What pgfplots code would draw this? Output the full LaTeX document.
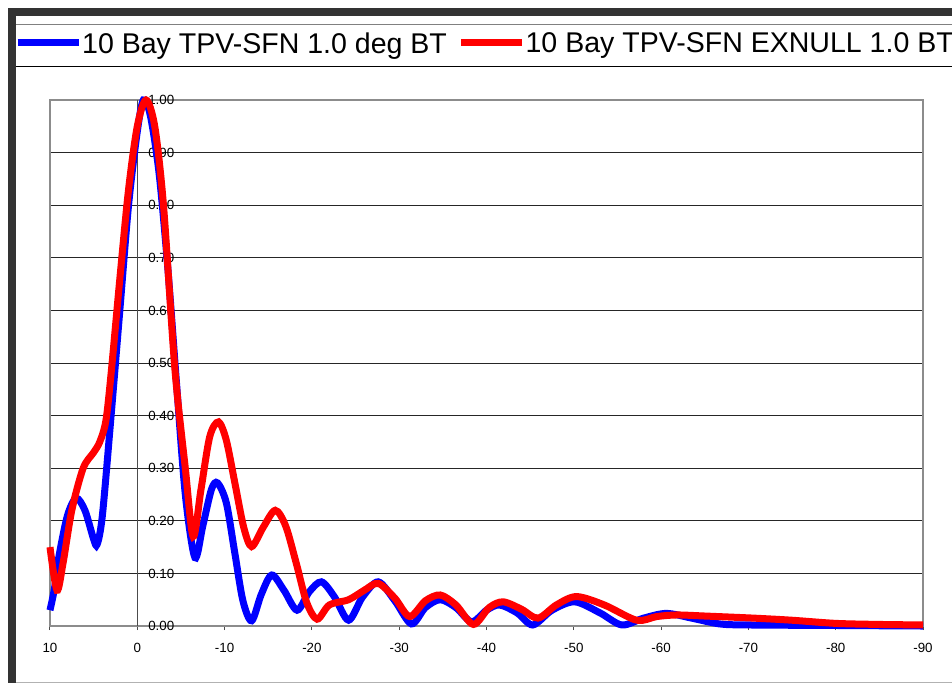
\documentclass[border=0pt]{standalone}
\usepackage{pgfplots}
\pgfplotsset{compat=1.18}
\usepackage{fontspec}
\setmainfont{Liberation Sans}
\definecolor{xlblue}{RGB}{0,0,255}
\definecolor{xlred}{RGB}{255,0,0}
\definecolor{frame}{RGB}{51,51,51}
\begin{document}
\begin{tikzpicture}
\useasboundingbox (0,0) rectangle (714pt,-512.25pt);
\fill[frame] (6pt,-6pt) rectangle (714pt,-12pt);
\fill[frame] (6pt,-6pt) rectangle (12pt,-512.25pt);
\draw[gray, line width=0.75pt] (12pt,-18.4pt) -- (714pt,-18.4pt);
\draw[black, line width=0.75pt] (12pt,-49.5pt) -- (714pt,-49.5pt);
\draw[black!30, line width=0.75pt] (12pt,-511.5pt) -- (714pt,-511.5pt);
\begin{axis}[
  at={(37.5pt,-469.5pt)}, anchor=south west,
  scale only axis, width=654.75pt, height=394.5pt,
  xmin=-90, xmax=10, ymin=0, ymax=1, x dir=reverse,
  clip=false,
  axis line style={black!45, line width=1.5pt},
  xtick={10,0,-10,-20,-30,-40,-50,-60,-70,-80,-90},
  xticklabels={10,0,-10,-20,-30,-40,-50,-60,-70,-80,-90},
  ytick={0,0.1,0.2,0.3,0.4,0.5,0.6,0.7,0.8,0.9,1},
  yticklabels={0.00,0.10,0.20,0.30,0.40,0.50,0.60,0.70,0.80,0.90,1.00},
  xtick pos=bottom, xtick align=outside,
  major tick length=3pt,
  xtick style={black!70, line width=0.75pt},
  ytick style={draw=none},
  ymajorgrids,
  major grid style={black!85, line width=0.75pt},
  extra x ticks={0}, extra x tick labels={},
  extra x tick style={grid=major, major grid style={black!70, line width=0.75pt}, major tick length=0pt},
  xticklabel style={font=\fontsize{10}{12}\selectfont, yshift=-6pt},
  yticklabel style={font=\fontsize{10}{12}\selectfont, anchor=west, inner xsep=0pt, xshift=73.5pt},
  legend style={at={(axis description cs:-0.0413,1.1084)}, anchor=west, draw=none, fill=none,
    inner sep=0pt, legend columns=2, font=\fontsize{21.4}{25}\selectfont,
    nodes={inner xsep=0pt, text depth=0pt},
    /tikz/every even column/.append style={column sep=8pt},
    /tikz/every odd column/.append style={column sep=0pt}},
  legend image code/.code={\draw[#1] (0pt,0pt) -- (45.75pt,0pt);},
]
\addplot[xlblue, line width=5.25pt, smooth, tension=0.5] coordinates {
(10,0.03) (9.5,0.07) (9,0.13) (8,0.21) (7,0.243) (6,0.22) (5,0.165) (4.6,0.155)
(4,0.21) (3,0.40) (2,0.60) (1,0.80) (0,0.94) (-0.7,1.00) (-1.5,0.97) (-2.5,0.86)
(-3.5,0.68) (-4.5,0.46) (-5.5,0.25) (-6.6,0.13) (-7.5,0.19) (-8.5,0.26) (-9.2,0.272)
(-10.2,0.234) (-11.15,0.141) (-12.1,0.048) (-13.1,0.01) (-14.2,0.06) (-15.4,0.097) (-16.8,0.068)
(-18.3,0.03) (-19.7,0.065) (-21.1,0.084) (-22.6,0.055) (-24.2,0.011) (-25.8,0.055)
(-27.6,0.084) (-29.5,0.048) (-31.4,0.004) (-33,0.035) (-34.7,0.05) (-36.5,0.035)
(-38.3,0.008) (-40,0.03) (-41.5,0.04) (-43.5,0.025) (-45.3,0.002) (-47.5,0.03)
(-50.1,0.046) (-53,0.025) (-55.5,0.002) (-58,0.015) (-60.6,0.024) (-63.5,0.015)
(-66.7,0.004) (-70,0.002) (-80,0.001) (-90,0.0)
};
\addlegendentry{10 Bay TPV-SFN 1.0 deg BT}
\addplot[xlred, line width=5.25pt, smooth, tension=0.5] coordinates {
(10,0.15) (9.2,0.068) (8.5,0.12) (7.5,0.22) (6.2,0.30) (5,0.33) (4.3,0.35) (3.6,0.39)
(3,0.48) (2,0.66) (1,0.83) (0,0.95) (-1.0,1.00) (-2,0.95) (-3,0.80) (-4.3,0.49)
(-5.5,0.30) (-6.4,0.17) (-7.3,0.26) (-8.3,0.36) (-9.3,0.388) (-10.2,0.353) (-11.2,0.27)
(-12.2,0.187) (-13.1,0.151) (-14.4,0.187) (-15.8,0.22) (-17,0.19) (-18.2,0.12) (-19.4,0.045)
(-20.6,0.013) (-22,0.04) (-24.2,0.05) (-26,0.068) (-27.6,0.081) (-29.5,0.053) (-31.2,0.018)
(-33,0.048) (-34.7,0.059) (-36.5,0.04) (-38.5,0.003) (-40.3,0.035) (-41.9,0.046) (-44,0.032)
(-45.9,0.015) (-48,0.04) (-50.3,0.056) (-53.5,0.04) (-57.2,0.011) (-59.5,0.018)
(-61.8,0.021) (-65,0.019) (-70.6,0.015) (-75,0.011) (-80,0.005) (-85,0.003) (-90,0.002)
};
\addlegendentry{10 Bay TPV-SFN EXNULL 1.0 BT}
\end{axis}
\end{tikzpicture}
\end{document}
